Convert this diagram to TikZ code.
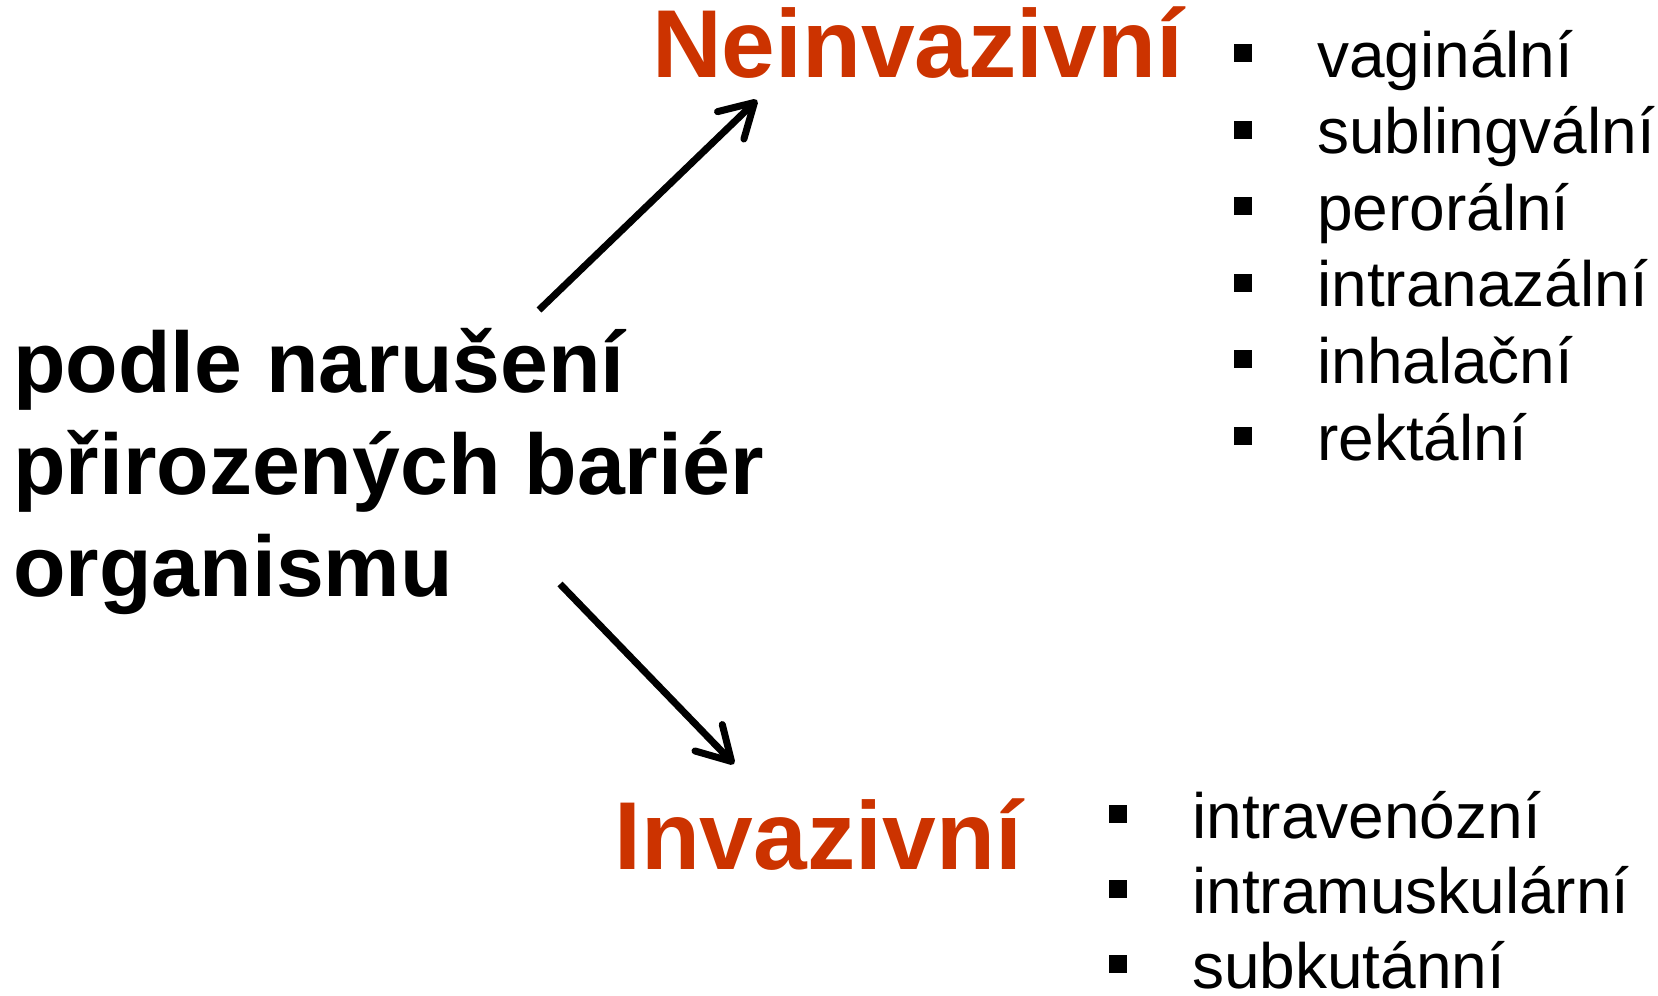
\documentclass[tikz,border=0pt]{standalone}
\usepackage{fontspec}
\setmainfont{Liberation Sans}
\usetikzlibrary{arrows.meta,positioning}
\definecolor{rust}{HTML}{CC3300}

\begin{document}
\begin{tikzpicture}[x=1bp,y=-1bp,inner sep=0pt,on grid,
    barrier/.style={font=\fontsize{86bp}{102bp}\selectfont\bfseries,anchor=base west},
    head/.style={font=\fontsize{96.5bp}{114bp}\selectfont\bfseries,text=rust,anchor=base west},
    item/.style={font=\fontsize{64bp}{76bp}\selectfont,anchor=base west},
    bullet/.style={fill=black,minimum size=18bp},
    arr/.style={line width=7bp,-{Straight Barb[length=33bp,width=38bp,round]}}]
    \useasboundingbox (0,0) rectangle (1658,995);

    \node[barrier] (l1) at (13,392) {podle narušení};
    \node[barrier] (l2) [below=102bp of l1.base west,anchor=base west] {přirozených bariér};
    \node[barrier] (l3) [below=102bp of l2.base west,anchor=base west] {organismu};

    \node[head] (nein) at (652,77) {Neinvazivní};
    \node[head] (inv) at (614,869) {Invazivní};

    \node[item] (vag) at (1317,77) {vaginální};
    \node[item] (subl) [below=76.6bp of vag.base west,anchor=base west] {sublingvální};
    \node[item] (peror) [below=76.6bp of subl.base west,anchor=base west] {perorální};
    \node[item] (intrn) [below=76.6bp of peror.base west,anchor=base west] {intranazální};
    \node[item] (inhal) [below=76.6bp of intrn.base west,anchor=base west] {inhalační};
    \node[item] (rekt) [below=76.6bp of inhal.base west,anchor=base west] {rektální};

    \node[item] (iv) at (1192,838) {intravenózní};
    \node[item] (im) [below=75bp of iv.base west,anchor=base west] {intramuskulární};
    \node[item] (sc) [below=75bp of im.base west,anchor=base west] {subkutánní};

    \foreach \n in {vag,subl,peror,intrn,inhal,rekt,iv,im,sc}
      \node[bullet] (\n-b) at ([shift={(-74bp,24bp)}]\n.base west) {};

    \coordinate (uptail) at (539,310);
    \coordinate (uptip) at (757,100);
    \coordinate (downtail) at (560,584);
    \coordinate (downtip) at (734,764);
    \draw[arr] (uptail) -- (uptip);
    \draw[arr] (downtail) -- (downtip);
\end{tikzpicture}
\end{document}
